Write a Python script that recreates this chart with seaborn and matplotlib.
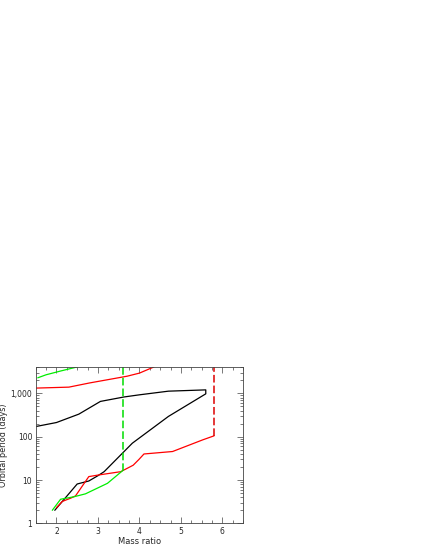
import seaborn as sns
import matplotlib.pyplot as plt
import matplotlib.ticker as mticker
import pandas as pd

# black loop (lower branch then upper branch back to the left)
black_x = [1.96, 2.5, 2.78, 3.0, 3.15, 3.83, 4.7, 5.6, 5.6, 4.7, 4.0, 3.63, 3.06, 2.54, 2.0, 1.5]
black_y = [2.0, 8.1, 9.5, 12.6, 15.6, 71, 295, 980, 1210, 1130, 930, 830, 655, 333, 213, 172]

# red curves
red_lo_x = [2.0, 2.14, 2.34, 2.46, 2.78, 3.02, 3.55, 3.85, 3.99, 4.11, 4.8, 5.53, 5.8]
red_lo_y = [2.3, 3.2, 3.8, 4.3, 12.0, 13.1, 15.6, 22, 30, 40, 45.6, 85, 105]
red_hi_x = [1.5, 2.3, 2.8, 3.2, 3.7, 4.0, 4.35]
red_hi_y = [1330, 1400, 1750, 2050, 2500, 2950, 4100]
red_vert_x = [5.8, 5.8]
red_vert_y = [105, 4100]

# green curves
green_lo_x = [1.9, 2.1, 2.42, 2.7, 3.23, 3.59]
green_lo_y = [2.0, 3.6, 4.1, 4.8, 8.4, 16.3]
green_hi_x = [1.55, 1.75, 2.1, 2.5]
green_hi_y = [2300, 2700, 3300, 4100]
green_vert_x = [3.6, 3.6]
green_vert_y = [16.3, 4100]

sns.set_style("ticks")
plt.rcParams['font.family'] = ['DejaVu Sans']
fig = plt.figure(figsize=(4.25, 5.5), dpi=100)
ax = fig.add_axes([0.084, 0.0485, 0.488, 0.2835])


def draw(xs, ys, color, dashed=False):
    df = pd.DataFrame({"q": xs, "P": ys})
    sns.lineplot(data=df, x="q", y="P", sort=False, estimator=None, color=color,
                 lw=1.1 if dashed else 0.9, ax=ax,
                 linestyle=(0, (5, 2)) if dashed else "-")


draw(black_x, black_y, "black")
draw(red_lo_x, red_lo_y, "#ff0000")
draw(red_hi_x, red_hi_y, "#ff0000")
draw(red_vert_x, red_vert_y, "#dd0000", dashed=True)
draw(green_lo_x, green_lo_y, "#00ee00")
draw(green_hi_x, green_hi_y, "#00ee00")
draw(green_vert_x, green_vert_y, "#00dd00", dashed=True)

ax.set_yscale("log")
ax.set_xlim(1.5, 6.5)
ax.set_ylim(1, 4000)
ax.set_xticks([2, 3, 4, 5, 6])
ax.xaxis.set_minor_locator(mticker.MultipleLocator(0.25))
ax.set_yticks([1, 10, 100, 1000])
ax.set_yticklabels(["1", "10", "100", "1,000"])
ax.yaxis.set_minor_locator(mticker.LogLocator(subs=range(2, 10)))
ax.yaxis.set_minor_formatter(mticker.NullFormatter())
ax.tick_params(which="both", direction="in", top=True, right=True, labelsize=5.5,
               width=0.5, color="#444444", pad=2.5)
ax.tick_params(which="major", length=4)
ax.tick_params(which="minor", length=2)
for s in ax.spines.values():
    s.set_linewidth(0.6)
    s.set_color("#444444")

ax.set_xlabel("Mass ratio", fontsize=6, labelpad=1)
ax.set_ylabel("Orbital period (days)", fontsize=5.8)
ax.yaxis.set_label_coords(-0.135, 0.5)

fig.savefig("out.png", dpi=100)
